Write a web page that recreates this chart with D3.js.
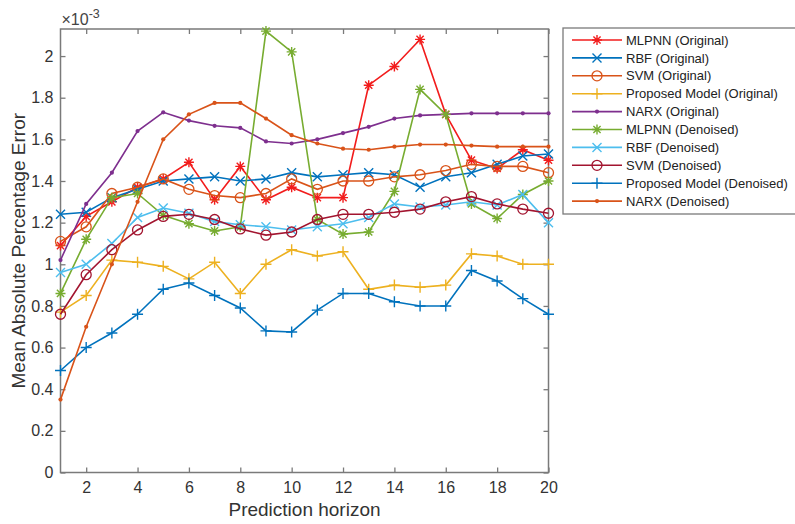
<!DOCTYPE html>
<html>
<head>
<meta charset="utf-8">
<title>Mean Absolute Percentage Error vs Prediction horizon</title>
<style>
    body { margin: 0; background: #fff; }
    svg { display: block; font-family: 'Liberation Sans', Arial, Helvetica, sans-serif; }
    .axis path, .axis line { stroke: #7a7a7a; stroke-width: 1.3px; }
    .axis text { fill: #333; font-size: 16px; }
    .series path.line { fill: none; stroke-width: 1.6px; }
</style>
</head>
<body>
<div id="chart"></div>
<script src="https://d3js.org/d3.v7.min.js"></script>
<script>
// prediction horizons (x)
var horizons = d3.range(1, 21);
var xTicks = [2, 4, 6, 8, 10, 12, 14, 16, 18, 20];
var yTicks = [0, 0.2, 0.4, 0.6, 0.8, 1, 1.2, 1.4, 1.6, 1.8, 2];

// values in units of 1e-3
var mlpnnOrig   = [1.09, 1.23, 1.30, 1.37, 1.41, 1.49, 1.31, 1.47, 1.31, 1.37, 1.32, 1.32, 1.86, 1.95, 2.08, 1.72, 1.50, 1.46, 1.55, 1.50];
var rbfOrig     = [1.24, 1.25, 1.32, 1.36, 1.40, 1.41, 1.42, 1.40, 1.41, 1.44, 1.42, 1.43, 1.44, 1.43, 1.37, 1.42, 1.44, 1.48, 1.52, 1.53];
var svmOrig     = [1.11, 1.18, 1.34, 1.37, 1.41, 1.36, 1.33, 1.32, 1.34, 1.41, 1.36, 1.40, 1.40, 1.42, 1.43, 1.45, 1.48, 1.47, 1.47, 1.44];
var propOrig    = [0.77, 0.85, 1.02, 1.01, 0.99, 0.93, 1.01, 0.86, 1.00, 1.07, 1.04, 1.06, 0.88, 0.90, 0.89, 0.90, 1.05, 1.04, 1.00, 1.00];
var narxOrig    = [1.02, 1.29, 1.44, 1.64, 1.73, 1.69, 1.665, 1.655, 1.59, 1.58, 1.60, 1.63, 1.66, 1.70, 1.715, 1.72, 1.725, 1.725, 1.725, 1.725];
var mlpnnDen    = [0.86, 1.12, 1.32, 1.34, 1.235, 1.195, 1.16, 1.18, 2.12, 2.02, 1.215, 1.145, 1.155, 1.35, 1.84, 1.72, 1.29, 1.22, 1.335, 1.40];
var rbfDen      = [0.96, 1.00, 1.10, 1.225, 1.27, 1.245, 1.205, 1.19, 1.18, 1.165, 1.18, 1.195, 1.225, 1.29, 1.275, 1.285, 1.30, 1.285, 1.335, 1.20];
var svmDen      = [0.76, 0.95, 1.07, 1.165, 1.23, 1.24, 1.215, 1.17, 1.14, 1.155, 1.215, 1.24, 1.24, 1.25, 1.265, 1.30, 1.325, 1.29, 1.265, 1.245];
var propDen     = [0.49, 0.60, 0.67, 0.76, 0.88, 0.91, 0.85, 0.79, 0.68, 0.675, 0.78, 0.86, 0.86, 0.82, 0.80, 0.80, 0.97, 0.92, 0.835, 0.76];
var narxDen     = [0.35, 0.70, 1.00, 1.30, 1.60, 1.72, 1.775, 1.775, 1.70, 1.62, 1.58, 1.555, 1.55, 1.565, 1.575, 1.575, 1.57, 1.565, 1.565, 1.565];

var seriesNames = ["MLPNN (Original)", "RBF (Original)", "SVM (Original)", "Proposed Model (Original)", "NARX (Original)",
                   "MLPNN (Denoised)", "RBF (Denoised)", "SVM (Denoised)", "Proposed Model (Denoised)", "NARX (Denoised)"];
var seriesValues = [mlpnnOrig, rbfOrig, svmOrig, propOrig, narxOrig, mlpnnDen, rbfDen, svmDen, propDen, narxDen];

// look of each series (matlab-ish)
var colors  = ["#f21c1c", "#0072bd", "#d95319", "#edb120", "#7e2f8e", "#77ac30", "#4dbeee", "#a2142f", "#0072bd", "#d95319"];
var markers = ["star", "x", "circle", "plus", "dot", "star", "x", "circle", "plus", "dot"];

var width = 795, height = 524;
var margin = {left: 60.5, right: 246.5, top: 29, bottom: 51.5};

var svg = d3.select("#chart").append("svg")
    .attr("width", width)
    .attr("height", height);

var x = d3.scaleLinear().domain([1, 20]).range([margin.left, width - margin.right]);
var y = d3.scaleLinear().domain([0, 2.13]).range([height - margin.bottom, margin.top]);

var fmt = function(d){ return d3.format("~g")(d); };

// axes (box with ticks on all four sides, ticks inside)
svg.append("g").attr("class", "axis")
    .attr("transform", "translate(0," + y(0) + ")")
    .call(d3.axisBottom(x).tickValues(xTicks).tickSizeInner(-5).tickSizeOuter(0).tickPadding(9).tickFormat(fmt));
svg.append("g").attr("class", "axis")
    .attr("transform", "translate(0," + margin.top + ")")
    .call(d3.axisTop(x).tickValues(xTicks).tickSizeInner(-5).tickSizeOuter(0).tickFormat(""));
svg.append("g").attr("class", "axis")
    .attr("transform", "translate(" + margin.left + ",0)")
    .call(d3.axisLeft(y).tickValues(yTicks).tickSizeInner(-5).tickSizeOuter(0).tickPadding(7).tickFormat(fmt));
svg.append("g").attr("class", "axis")
    .attr("transform", "translate(" + (width - margin.right) + ",0)")
    .call(d3.axisRight(y).tickValues(yTicks).tickSizeInner(-5).tickSizeOuter(0).tickFormat(""));

svg.selectAll(".axis .domain").remove();
svg.append("rect")
    .attr("x", margin.left).attr("y", margin.top)
    .attr("width", width - margin.right - margin.left)
    .attr("height", y(0) - margin.top)
    .attr("fill", "none").attr("stroke", "#7a7a7a").attr("stroke-width", 1.5);

// x10^-3 exponent label
var expo = svg.append("text")
    .attr("x", margin.left + 1).attr("y", 25)
    .attr("fill", "#444").style("font-size", "16px");
expo.append("tspan").text("\u00d710");
expo.append("tspan").attr("dy", -7).style("font-size", "12.5px").text("-3");

// axis titles
svg.append("text")
    .attr("x", (margin.left + width - margin.right) / 2).attr("y", 516)
    .attr("text-anchor", "middle").attr("fill", "#333")
    .style("font-size", "19px")
    .text("Prediction horizon");
svg.append("text")
    .attr("transform", "translate(25," + ((margin.top + y(0)) / 2) + ") rotate(-90)")
    .attr("text-anchor", "middle").attr("fill", "#333")
    .style("font-size", "19px")
    .text("Mean Absolute Percentage Error");

// draws one marker at (0,0) into g
function drawMarker(g, type, color){
    if(type == "star"){
        g.append("path").attr("d", "M-5,0H5M0,-5V5M-3.6,-3.6L3.6,3.6M-3.6,3.6L3.6,-3.6")
            .attr("stroke", color).attr("stroke-width", 1.4).attr("fill", "none");
    } else if(type == "x"){
        g.append("path").attr("d", "M-4.5,-4.5L4.5,4.5M-4.5,4.5L4.5,-4.5")
            .attr("stroke", color).attr("stroke-width", 1.4).attr("fill", "none");
    } else if(type == "plus"){
        g.append("path").attr("d", "M-5.5,0H5.5M0,-5.5V5.5")
            .attr("stroke", color).attr("stroke-width", 1.4).attr("fill", "none");
    } else if(type == "circle"){
        g.append("circle").attr("r", 5)
            .attr("stroke", color).attr("stroke-width", 1.3).attr("fill", "none");
    } else {
        g.append("circle").attr("r", 2.1).attr("fill", color);
    }
}

var line = d3.line()
    .x(function(d, i){ return x(horizons[i]); })
    .y(function(d){ return y(d); });

seriesValues.forEach(function(vals, k){
    var g = svg.append("g").attr("class", "series");
    g.append("path").attr("class", "line")
        .attr("d", line(vals))
        .attr("stroke", colors[k]);
    vals.forEach(function(v, i){
        var m = g.append("g").attr("transform", "translate(" + x(horizons[i]) + "," + y(v) + ")");
        drawMarker(m, markers[k], colors[k]);
    });
});

// legend
var legend = svg.append("g").attr("transform", "translate(563,28)");
legend.append("rect")
    .attr("width", 245).attr("height", 186)
    .attr("fill", "#fff").attr("stroke", "#7a7a7a").attr("stroke-width", 1.3);

seriesNames.forEach(function(name, k){
    var row = legend.append("g").attr("transform", "translate(0," + (12 + k * 17.9) + ")");
    row.append("line").attr("x1", 9).attr("x2", 59)
        .attr("stroke", colors[k]).attr("stroke-width", 1.6);
    drawMarker(row.append("g").attr("transform", "translate(34,0)"), markers[k], colors[k]);
    row.append("text").attr("x", 63).attr("dy", "0.36em")
        .attr("fill", "#222").style("font-size", "13px")
        .text(name);
});
</script>
</body>
</html>
